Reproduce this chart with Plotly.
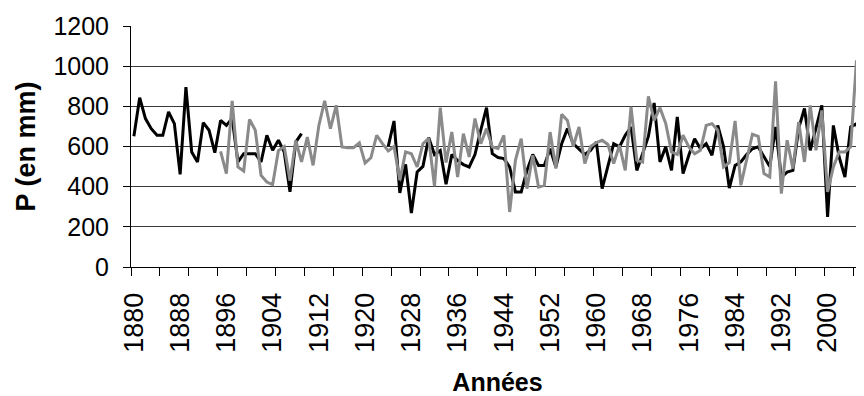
import plotly.graph_objects as go

years = list(range(1880, 2007))

black_vals = [
    651, 843, 739, 689, 656, 656, 772, 714, 461, 896,   # 1880-1889
    573, 523, 719, 681, 569, 730, 705, 740, 523, 564,   # 1890-1899
    564, 564, 523, 656, 581, 631, 573, 374, 622, 664,   # 1900-1909
    None, None, None, None, None, None, None, None, None, None,  # 1910-1919
    None, None, None, None, 601, 727, 369, 511, 269, 473,  # 1920-1929
    501, 644, 560, 580, 412, 560, 530, 510, 498, 560,   # 1930-1939
    681, 793, 564, 545, 540, 498, 374, 374, 481, 560,   # 1940-1949
    506, 506, 589, 498, 614, 689, 614, 589, 560, 581,   # 1950-1959
    622, 390, 500, 614, 598, 656, 697, 481, 564, 650,   # 1960-1969
    817, 523, 598, 481, 747, 465, 556, 639, 589, 614,   # 1970-1979
    556, 705, 600, 393, 506, 523, 560, 589, 598, 548,   # 1980-1989
    500, 697, 448, 473, 481, 690, 789, 581, 700, 805,   # 1990-1999
    249, 705, 548, 448, 697, 714, 598,                  # 2000-2006
]

gray_vals = [
    None, None, None, None, None, None, None, None, None, None,  # 1880-1889
    None, None, None, None, None, 576, 465, 827, 498, 478,      # 1890-1899
    735, 681, 456, 423, 410, 580, 600, 430, 630, 523,   # 1900-1909
    647, 506, 705, 827, 689, 805, 598, 594, 594, 618,   # 1910-1919
    518, 544, 656, 614, 578, 600, 432, 573, 564, 498,   # 1920-1929
    614, 640, 402, 793, 520, 672, 448, 664, 548, 739,   # 1930-1939
    614, 689, 598, 590, 656, 274, 531, 639, 390, 556,   # 1940-1949
    398, 407, 672, 490, 760, 730, 600, 697, 515, 600,   # 1950-1959
    620, 631, 610, 515, 606, 481, 797, 531, 523, 850,   # 1960-1969
    730, 793, 715, 573, 560, 656, 598, 564, 581, 705,   # 1970-1979
    714, 681, 498, 520, 727, 407, 540, 661, 651, 465,   # 1980-1989
    448, 925, 365, 631, 490, 722, 523, 805, 581, 780,   # 1990-1999
    374, 498, 573, 573, 598, 1029, 515,                 # 2000-2006
]

x_label_years = list(range(1880, 2001, 8))
y_ticks_main = [0, 200, 400, 600, 800, 1000]
y_tick_top = [1200]

FONT = "Arial, Liberation Sans, sans-serif"

fig = go.Figure()
fig.add_trace(go.Scatter(
    x=years, y=black_vals, mode="lines", connectgaps=False,
    line=dict(color="#000000", width=3), showlegend=False, yaxis="y",
))
fig.add_trace(go.Scatter(
    x=years, y=gray_vals, mode="lines", connectgaps=False,
    line=dict(color="#8a8a8a", width=3), showlegend=False, yaxis="y2",
))

fig.update_layout(
    template="none",
    width=856, height=388,
    margin=dict(l=123, r=0, t=18, b=129),
    paper_bgcolor="white", plot_bgcolor="white",
    font=dict(family=FONT, color="black"),
    xaxis=dict(
        automargin=False,
        range=[1879.5, 2006.3],
        tickmode="array", tickvals=x_label_years,
        ticktext=[str(y) for y in x_label_years],
        tickangle=-90, tickfont=dict(size=27, family=FONT),
        ticks="", ticklabelstandoff=14,
        showline=True, linecolor="black", linewidth=1,
        showgrid=False, zeroline=False,
        minor=dict(ticks="outside", ticklen=8, tickcolor="black",
                   tickwidth=1, tick0=1879.5, dtick=5, showgrid=False),
        title=dict(text="<b>Années</b>", font=dict(size=25, family=FONT),
                   standoff=24),
    ),
    yaxis=dict(
        automargin=False,
        range=[0, 1200],
        tickmode="array", tickvals=y_ticks_main,
        tickfont=dict(size=25, family=FONT),
        ticks="outside", ticklen=7, tickcolor="black",
        ticklabelstandoff=9,
        showline=True, linecolor="black", linewidth=1,
        showgrid=True, gridcolor="#3a3a3a", gridwidth=1,
        zeroline=False,
        title=dict(text="<b>P (en mm)</b>", font=dict(size=27, family=FONT),
                   standoff=9),
    ),
    yaxis2=dict(
        automargin=False,
        overlaying="y", matches="y", side="left", anchor="x",
        range=[0, 1200],
        tickmode="array", tickvals=y_tick_top,
        tickfont=dict(size=25, family=FONT),
        ticks="outside", ticklen=7, tickcolor="black",
        ticklabelstandoff=9,
        showline=False,
        showgrid=True, gridcolor="#c8c8c8", gridwidth=1,
        zeroline=False,
    ),
)

fig.write_html("out.html")
